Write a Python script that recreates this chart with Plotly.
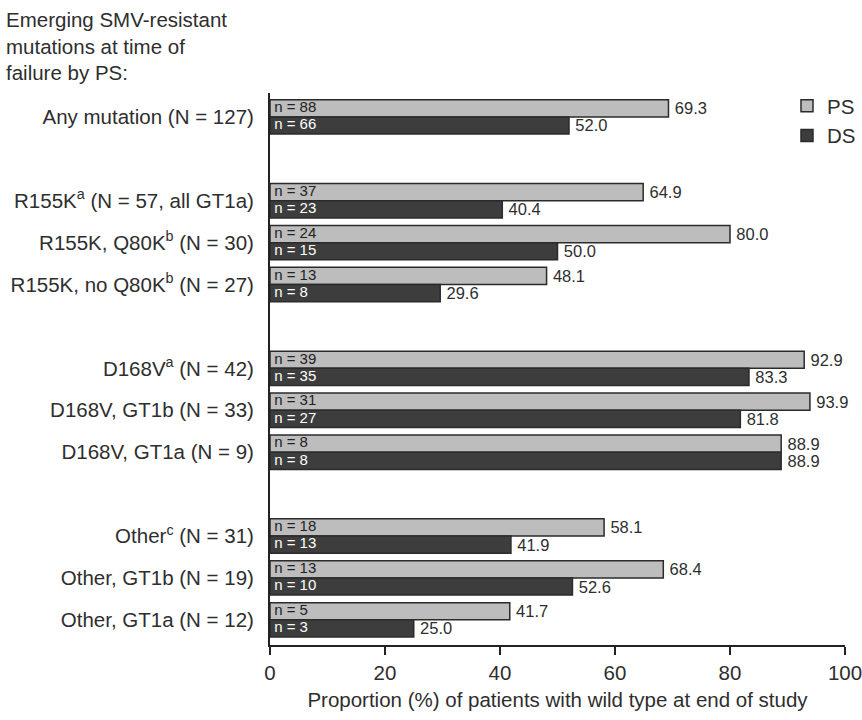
import plotly.graph_objects as go

categories = [
    "Any mutation (N = 127)",
    "R155K<sup>a</sup> (N = 57, all GT1a)",
    "R155K, Q80K<sup>b</sup> (N = 30)",
    "R155K, no Q80K<sup>b</sup> (N = 27)",
    "D168V<sup>a</sup> (N = 42)",
    "D168V, GT1b (N = 33)",
    "D168V, GT1a (N = 9)",
    "Other<sup>c</sup> (N = 31)",
    "Other, GT1b (N = 19)",
    "Other, GT1a (N = 12)",
]
groups = [0, 1, 1, 1, 2, 2, 2, 3, 3, 3]
ps_values = [69.3, 64.9, 80.0, 48.1, 92.9, 93.9, 88.9, 58.1, 68.4, 41.7]
ds_values = [52.0, 40.4, 50.0, 29.6, 83.3, 81.8, 88.9, 41.9, 52.6, 25.0]
ps_n = [88, 37, 24, 13, 39, 31, 8, 18, 13, 5]
ds_n = [66, 23, 15, 8, 35, 27, 8, 13, 10, 3]
x_ticks = [0, 20, 40, 60, 80, 100]
title_text = "Emerging SMV-resistant<br>mutations at time of<br>failure by PS:"
x_title = "Proportion (%) of patients with wild type at end of study"

FONT = "Liberation Sans, Arial, Helvetica, sans-serif"
FS = 20.5
TXT = "#2e2e2e"
PS_COL = "#bdbdbd"
DS_COL = "#3d3d3d"
EDGE = "#2b2b2b"

pos = [i + g for i, g in enumerate(groups)]
W = 0.41
ps_pos = [p - W / 2 for p in pos]
ds_pos = [p + W / 2 for p in pos]

fig = go.Figure()
fig.add_trace(go.Bar(
    name="PS", y=pos, x=ps_values, orientation="h", width=W, offset=-W,
    marker=dict(color=PS_COL, line=dict(color=EDGE, width=1.5)),
    text=[f"\u2009{v:.1f}" for v in ps_values], textposition="outside",
    textfont=dict(size=16.5, color=TXT, family=FONT), constraintext="none",
    cliponaxis=False,
))
fig.add_trace(go.Bar(
    name="DS", y=pos, x=ds_values, orientation="h", width=W, offset=0,
    marker=dict(color=DS_COL, line=dict(color=EDGE, width=1.5)),
    text=[f"\u2009{v:.1f}" for v in ds_values], textposition="outside",
    textfont=dict(size=16.5, color=TXT, family=FONT), constraintext="none",
    cliponaxis=False,
))
fig.add_trace(go.Scatter(
    x=[0] * len(ps_n), y=ps_pos, mode="text", showlegend=False,
    text=[f"\u00a0n = {n}" for n in ps_n], textposition="middle right",
    textfont=dict(size=15, color="#222222", family=FONT), hoverinfo="skip",
))
fig.add_trace(go.Scatter(
    x=[0] * len(ds_n), y=ds_pos, mode="text", showlegend=False,
    text=[f"\u00a0n = {n}" for n in ds_n], textposition="middle right",
    textfont=dict(size=15, color="#ffffff", family=FONT), hoverinfo="skip",
))

fig.add_annotation(
    text=title_text, xref="paper", yref="paper",
    x=-266 / 575, y=1 + (93 - 6) / 552, xanchor="left", yanchor="top",
    align="left", showarrow=False,
    font=dict(size=FS, color=TXT, family=FONT),
)

fig.update_layout(
    width=862, height=720,
    margin=dict(l=270, r=17, t=93, b=75, autoexpand=False),
    plot_bgcolor="white", paper_bgcolor="white",
    barmode="overlay",
    font=dict(family=FONT, size=FS, color=TXT),
    legend=dict(
        xref="container", yref="container",
        x=787 / 862, y=1 - 86 / 720, xanchor="left", yanchor="top",
        bgcolor="rgba(0,0,0,0)", font=dict(size=FS, color=TXT),
        itemwidth=30, tracegroupgap=0,
    ),
    xaxis=dict(
        range=[0, 100], tickvals=x_ticks, ticks="outside", ticklen=8,
        tickwidth=2, tickcolor="#222222", showline=True, linecolor="#222222",
        linewidth=2, showgrid=False, zeroline=False, automargin=False,
        ticklabeloverflow="allow",
        tickfont=dict(size=FS, color=TXT),
        title=dict(text=x_title, font=dict(size=FS, color=TXT), standoff=10),
    ),
    yaxis=dict(
        range=[12.6, -0.57], tickvals=pos, ticktext=categories,
        showline=True, linecolor="#222222", linewidth=2, ticks="",
        showgrid=False, zeroline=False, ticklabelstandoff=10, automargin=False,
        ticklabeloverflow="allow",
        tickfont=dict(size=FS, color=TXT),
    ),
)

fig.write_html("out.html")
